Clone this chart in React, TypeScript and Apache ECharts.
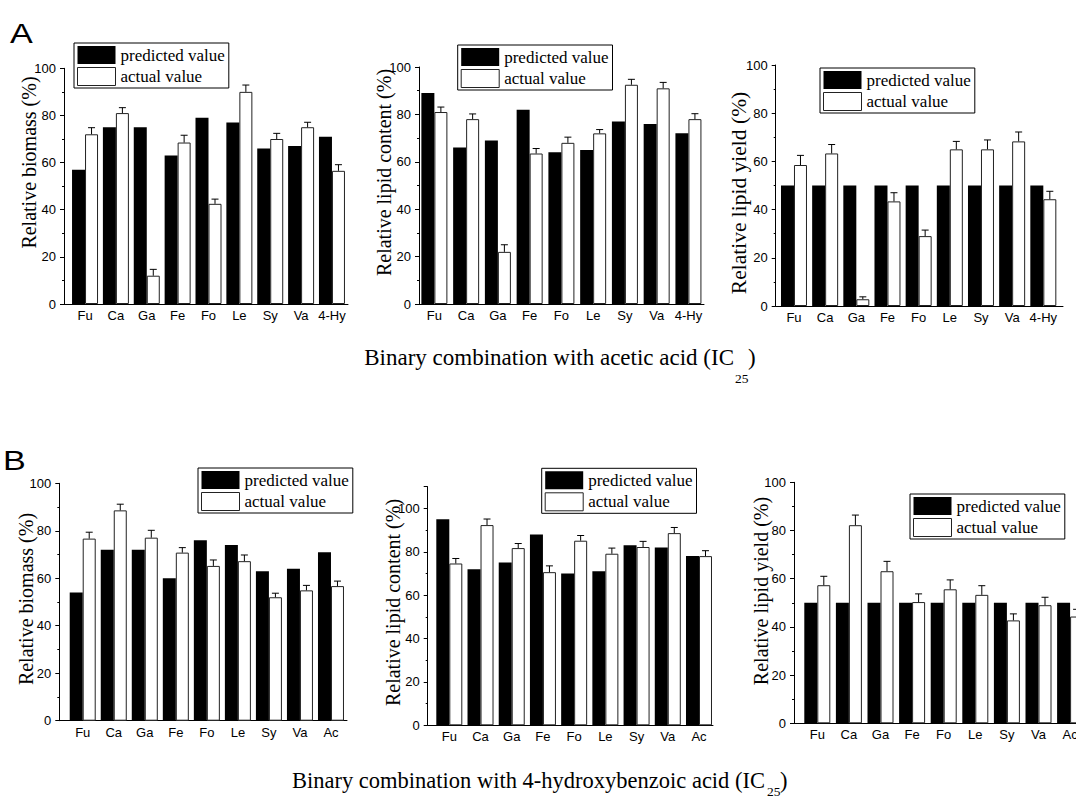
import React, { useEffect, useRef } from 'react';
import * as echarts from 'echarts';

// ---------------- data ----------------
const catsA = ['Fu', 'Ca', 'Ga', 'Fe', 'Fo', 'Le', 'Sy', 'Va', '4-Hy'];
const catsB = ['Fu', 'Ca', 'Ga', 'Fe', 'Fo', 'Le', 'Sy', 'Va', 'Ac'];

const a1Pred = [57, 75, 75, 63, 79, 77, 66, 67, 71];
const a1Act = [72, 81, 12, 68.5, 42.5, 90, 70, 75, 56.5];
const a1Err = [2.8, 2.3, 2.7, 3.1, 2, 2.9, 2.4, 2.1, 2.6];

const a2Pred = [89, 66, 69, 82, 64, 65, 77, 76, 72];
const a2Act = [81, 78, 22, 63.5, 68, 72, 92.5, 91, 78];
const a2Err = [2.1, 2.2, 3, 2.1, 2.4, 1.6, 2.3, 2.5, 2.3];

const a3Pred = [50, 50, 50, 50, 50, 50, 50, 50, 50];
const a3Act = [58.5, 63.3, 2.8, 43.4, 29, 65, 65, 68.3, 44.3];
const a3Err = [4, 3.7, 1, 3.6, 2.5, 3.3, 3.9, 3.9, 3.3];

const b1Pred = [54, 72, 72, 60, 76, 74, 63, 64, 71];
const b1Act = [76.7, 88.6, 77.1, 70.8, 65.2, 67.2, 52, 54.9, 56.7];
const b1Err = [2.7, 2.6, 3.1, 2.1, 2.5, 2.6, 1.7, 2.1, 2.1];

const b2Pred = [95, 72, 75, 88, 70, 71, 83, 82, 78];
const b2Act = [74.6, 92.3, 81.7, 70.6, 85.1, 79.1, 82.2, 88.6, 78];
const b2Err = [2.3, 2.8, 2.1, 2.9, 2.4, 2.6, 2.6, 2.6, 2.5];

const b3Pred = [50, 50, 50, 50, 50, 50, 50, 50, 50];
const b3Act = [57.3, 82.2, 63.1, 50.3, 55.6, 53.3, 42.7, 49, 44.3];
const b3Err = [3.7, 4.2, 4.1, 3.4, 3.9, 3.8, 2.7, 3.3, 3];

const yTicks = [0, 20, 40, 60, 80, 100];
const seriesNames = ['predicted value', 'actual value'];
const titleA = 'Binary combination with acetic acid (IC';
const titleB = 'Binary combination with 4-hydroxybenzoic acid (IC';
const subText = '25';

// ---------------- layout ----------------
const SERIF = "'Liberation Serif','Times New Roman',Times,serif";
const SANS = "'Liberation Sans Narrow','Arial Narrow','Liberation Sans',Arial,sans-serif";
const BW = 13;

type Panel = {
  cats: string[]; pred: number[]; act: number[]; err: number[];
  yName: string; ymax: number;
  axisX: number; axisEnd: number; top: number; y0: number;
  bandL: number; bandR: number;
  legend: [number, number]; name: [number, number]; nameSize: number;
};

const panels: Panel[] = [
  { cats: catsA, pred: a1Pred, act: a1Act, err: a1Err, yName: 'Relative biomass (%)', ymax: 100,
    axisX: 64, axisEnd: 348, top: 68.3, y0: 304, bandL: 69.6, bandR: 347.4,
    legend: [74, 43], name: [29.4, 162.5], nameSize: 20 },
  { cats: catsA, pred: a2Pred, act: a2Act, err: a2Err, yName: 'Relative lipid content (%)', ymax: 100,
    axisX: 419, axisEnd: 704, top: 67, y0: 304, bandL: 418.5, bandR: 704.3,
    legend: [457.7, 45], name: [384.4, 172.5], nameSize: 20 },
  { cats: catsA, pred: a3Pred, act: a3Act, err: a3Err, yName: 'Relative lipid yield (%)', ymax: 100,
    axisX: 775.7, axisEnd: 1063, top: 65, y0: 306, bandL: 778.4, bandR: 1058.9,
    legend: [820, 68], name: [739.4, 193], nameSize: 21.5 },
  { cats: catsB, pred: b1Pred, act: b1Act, err: b1Err, yName: 'Relative biomass (%)', ymax: 100,
    axisX: 59.3, axisEnd: 347, top: 483.3, y0: 720.7, bandL: 67.2, bandR: 346.5,
    legend: [198, 468], name: [26, 599], nameSize: 20 },
  { cats: catsB, pred: b2Pred, act: b2Act, err: b2Err, yName: 'Relative lipid content (%)', ymax: 110,
    axisX: 427.7, axisEnd: 713, top: 486.7, y0: 725.3, bandL: 433.7, bandR: 714.6,
    legend: [541.7, 468.3], name: [392.5, 602.5], nameSize: 20 },
  { cats: catsB, pred: b3Pred, act: b3Act, err: b3Err, yName: 'Relative lipid yield (%)', ymax: 100,
    axisX: 794, axisEnd: 1092, top: 482.3, y0: 723.3, bandL: 801.5, bandR: 1085.9,
    legend: [910, 494], name: [760.5, 591], nameSize: 20 },
];

function buildOption() {
  const grid: any[] = [];
  const xAxis: any[] = [];
  const yAxis: any[] = [];
  const series: any[] = [];
  const legend: any[] = [];
  const graphic: any[] = [];

  panels.forEach((p, k) => {
    const h = p.y0 - p.top;
    grid.push({ left: p.axisX, top: p.top, width: p.axisEnd - p.axisX, height: h, containLabel: false });
    grid.push({ left: p.bandL, top: p.top, width: p.bandR - p.bandL, height: h, containLabel: false });
    const ga = 2 * k, gb = 2 * k + 1;
    xAxis.push({
      gridIndex: ga, type: 'value', min: 0, max: 1, show: true,
      axisLine: { show: true, onZero: false, lineStyle: { color: '#000', width: 1 } },
      axisTick: { show: false }, axisLabel: { show: false }, splitLine: { show: false },
    });
    xAxis.push({
      gridIndex: gb, type: 'category', data: p.cats, boundaryGap: true,
      axisLine: { show: false }, axisTick: { show: false },
      axisLabel: { interval: 0, color: '#000', fontFamily: SANS, fontSize: 13, margin: 5 },
      splitLine: { show: false },
    });
    yAxis.push({
      gridIndex: ga, type: 'value', min: 0, max: p.ymax, interval: 20,
      axisLine: { show: true, lineStyle: { color: '#000', width: 1 } },
      axisTick: { show: true, inside: false, length: 4, lineStyle: { color: '#000' } },
      minorTick: { show: true, splitNumber: 2, length: 2, lineStyle: { color: '#000' } },
      axisLabel: {
        color: '#000', fontFamily: SANS, fontSize: 13, margin: 8,
        formatter: (v: number) => (yTicks.indexOf(v) >= 0 ? String(v) : ''),
      },
      splitLine: { show: false }, minorSplitLine: { show: false },
    });
    yAxis.push({ gridIndex: gb, type: 'value', min: 0, max: p.ymax, show: false, splitLine: { show: false } });

    series.push({
      name: seriesNames[0], type: 'bar', xAxisIndex: gb, yAxisIndex: gb, data: p.pred,
      barWidth: BW, barGap: '0%', itemStyle: { color: '#000' },
    });
    series.push({
      name: seriesNames[1], type: 'bar', xAxisIndex: gb, yAxisIndex: gb, data: p.act,
      barWidth: BW, barGap: '0%', itemStyle: { color: '#fff', borderColor: '#222', borderWidth: 1 },
    });
    series.push({
      name: 'error', type: 'custom', xAxisIndex: gb, yAxisIndex: gb, z: 5,
      data: p.act.map((v, i) => [i, v, p.err[i]]),
      encode: { x: 0, y: 1 },
      renderItem: (params: any, api: any) => {
        const i = api.value(0), v = api.value(1), e = api.value(2);
        const p0 = api.coord([i, v]);
        const p1 = api.coord([i, v + e]);
        const x = p0[0] + BW / 2;
        return {
          type: 'group',
          children: [
            { type: 'line', shape: { x1: x, y1: p0[1], x2: x, y2: p1[1] }, style: { stroke: '#000', lineWidth: 1 } },
            { type: 'line', shape: { x1: x - 3.5, y1: p1[1], x2: x + 3.5, y2: p1[1] }, style: { stroke: '#000', lineWidth: 1 } },
          ],
        };
      },
    });

    legend.push({
      orient: 'vertical', left: p.legend[0], top: p.legend[1],
      data: seriesNames, icon: 'rect', itemWidth: 38, itemHeight: 18, itemGap: 3,
      padding: [3, 4, 2, 3], borderColor: '#000', borderWidth: 1, backgroundColor: '#fff',
      selectedMode: false,
      itemStyle: { borderWidth: 1 },
      textStyle: { fontFamily: SERIF, fontSize: 17, color: '#000' },
    });

    graphic.push({
      type: 'text', x: p.name[0], y: p.name[1], rotation: Math.PI / 2,
      style: {
        text: p.yName, fontFamily: SERIF, fontSize: p.nameSize, fill: '#000',
        align: 'center', verticalAlign: 'middle', textAlign: 'center', textVerticalAlign: 'middle',
      },
    });
  });

  const txt = (text: string, x: number, y: number, size: number, family: string, align: string, scaleX = 1) => ({
    type: 'text', x, y, scaleX,
    style: {
      text, fontFamily: family, fontSize: size, fill: '#000',
      align, verticalAlign: 'middle', textAlign: align, textVerticalAlign: 'middle',
    },
  });

  const LETTER = "'Liberation Sans',Arial,sans-serif";
  graphic.push(txt('A', 10, 33.3, 28, LETTER, 'left', 1.22));
  graphic.push(txt('B', 3, 460.3, 28, LETTER, 'left', 1.22));
  graphic.push(txt(titleA, 734, 357.9, 23, SERIF, 'right'));
  graphic.push(txt(subText, 735, 378, 13.5, SERIF, 'left'));
  graphic.push(txt(')', 748, 357.9, 23, SERIF, 'left'));
  graphic.push(txt(titleB, 765, 780.7, 22.5, SERIF, 'right'));
  graphic.push(txt(subText, 767, 791.5, 13.5, SERIF, 'left'));
  graphic.push(txt(')', 780, 780.7, 22.5, SERIF, 'left'));

  return {
    animation: false,
    backgroundColor: '#fff',
    grid, xAxis, yAxis, series, legend, graphic,
  };
}

export default function App() {
  const ref = useRef<HTMLDivElement>(null);
  useEffect(() => {
    if (!ref.current) return;
    const chart = echarts.init(ref.current, undefined, { renderer: 'svg' });
    chart.setOption(buildOption() as any);
    return () => chart.dispose();
  }, []);
  return (
    <div style={{ position: 'absolute', left: 0, top: 0, width: 1076, height: 799, overflow: 'hidden', background: '#fff' }}>
      <div ref={ref} style={{ width: 1110, height: 799 }} />
    </div>
  );
}
